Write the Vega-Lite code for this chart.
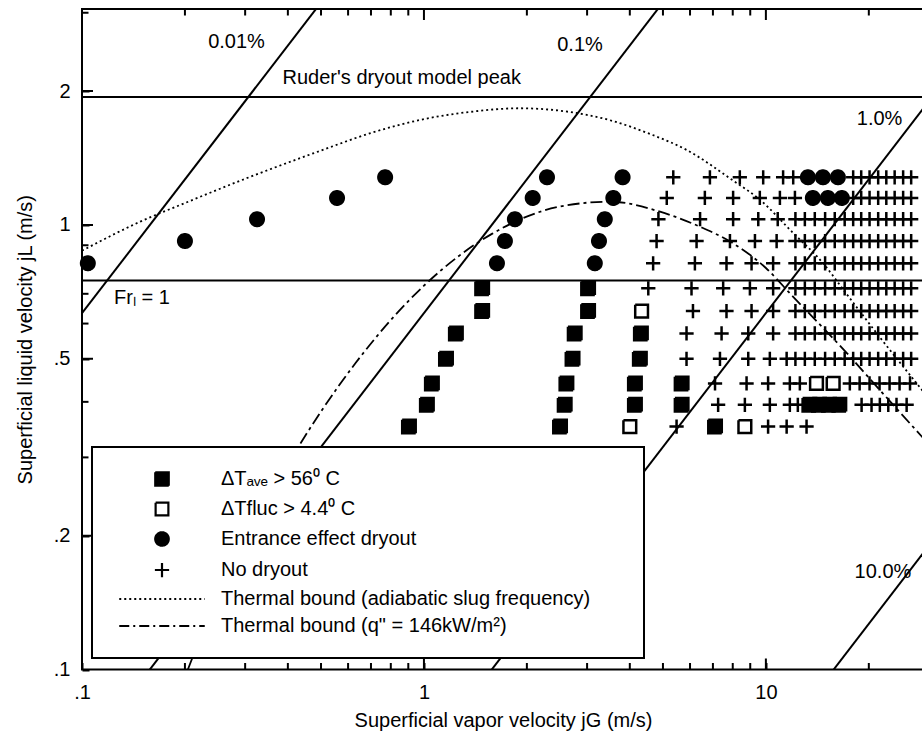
{
  "$schema": "https://vega.github.io/schema/vega-lite/v6.json",
  "width": 842,
  "height": 660.5,
  "autosize": {"type": "none"},
  "padding": {"left": 82, "top": 9, "right": 0, "bottom": 74},
  "background": "white",
  "config": {
    "font": "Liberation Sans",
    "view": {"stroke": "black", "strokeWidth": 2},
    "axis": {"domain": false, "grid": false, "ticks": true, "tickColor": "black", "tickWidth": 2, "labelColor": "black", "labelFontSize": 20, "labelFont": "Liberation Sans", "titleFont": "Liberation Sans", "titleFontSize": 20, "titleFontWeight": "normal", "titleColor": "black", "labelOverlap": false, "labelFlush": false},
    "legend": {"strokeWidth": 2, "symbolStrokeColor": "black", "symbolStrokeWidth": 2.2}
  },
  "layer": [
    {
      "data": {"values": [
        {"g": 0.08, "l": 0.5064, "k": "a"}, {"g": 0.6, "l": 3.798, "k": "a"},
        {"g": 0.15, "l": 0.095, "k": "b"}, {"g": 6.0, "l": 3.8, "k": "b"},
        {"g": 1.5, "l": 0.095, "k": "c"}, {"g": 60, "l": 3.8, "k": "c"},
        {"g": 15, "l": 0.095, "k": "d"}, {"g": 60, "l": 0.38, "k": "d"}
      ]},
      "mark": {"type": "line", "clip": true, "stroke": "black", "strokeWidth": 2},
      "encoding": {
        "x": {"field": "g", "type": "quantitative", "scale": {"type": "log", "domain": [0.1, 29], "nice": false}},
        "y": {"field": "l", "type": "quantitative", "scale": {"type": "log", "domain": [0.1, 3.06], "nice": false}},
        "detail": {"field": "k"}
      }
    },
    {
      "data": {"values": [{"l": 1.94}, {"l": 0.75}]},
      "mark": {"type": "rule", "stroke": "black", "strokeWidth": 2},
      "encoding": {
        "y": {"field": "l", "type": "quantitative", "scale": {"type": "log", "domain": [0.1, 3.06], "nice": false}}
      }
    },
    {
      "data": {"values": [{"v": 0.1}, {"v": 1}, {"v": 10}]},
      "layer": [
        {"mark": {"type": "tick", "orient": "vertical", "size": 22, "thickness": 2, "color": "black", "opacity": 1, "clip": true},
         "encoding": {"x": {"field": "v", "type": "quantitative", "scale": {"type": "log", "domain": [0.1, 29], "nice": false}}, "y": {"datum": 0.1, "type": "quantitative", "scale": {"type": "log", "domain": [0.1, 3.06], "nice": false}}}},
        {"mark": {"type": "tick", "orient": "vertical", "size": 22, "thickness": 2, "color": "black", "opacity": 1, "clip": true},
         "encoding": {"x": {"field": "v", "type": "quantitative", "scale": {"type": "log", "domain": [0.1, 29], "nice": false}}, "y": {"datum": 3.06, "type": "quantitative", "scale": {"type": "log", "domain": [0.1, 3.06], "nice": false}}}}
      ]
    },
    {
      "data": {"values": [{"v": 0.2}, {"v": 0.3}, {"v": 0.4}, {"v": 0.5}, {"v": 0.6}, {"v": 0.7}, {"v": 0.8}, {"v": 0.9}, {"v": 2}, {"v": 3}, {"v": 4}, {"v": 5}, {"v": 6}, {"v": 7}, {"v": 8}, {"v": 9}, {"v": 20}]},
      "layer": [
        {"mark": {"type": "tick", "orient": "vertical", "size": 13, "thickness": 2, "color": "black", "opacity": 1, "clip": true},
         "encoding": {"x": {"field": "v", "type": "quantitative", "scale": {"type": "log", "domain": [0.1, 29], "nice": false}}, "y": {"datum": 0.1, "type": "quantitative", "scale": {"type": "log", "domain": [0.1, 3.06], "nice": false}}}},
        {"mark": {"type": "tick", "orient": "vertical", "size": 13, "thickness": 2, "color": "black", "opacity": 1, "clip": true},
         "encoding": {"x": {"field": "v", "type": "quantitative", "scale": {"type": "log", "domain": [0.1, 29], "nice": false}}, "y": {"datum": 3.06, "type": "quantitative", "scale": {"type": "log", "domain": [0.1, 3.06], "nice": false}}}}
      ]
    },
    {
      "data": {"values": [{"v": 0.2}, {"v": 0.5}, {"v": 1}, {"v": 2}]},
      "mark": {"type": "tick", "orient": "horizontal", "size": 22, "thickness": 2, "color": "black", "opacity": 1, "clip": true},
      "encoding": {"y": {"field": "v", "type": "quantitative", "scale": {"type": "log", "domain": [0.1, 3.06], "nice": false}}, "x": {"datum": 0.1, "type": "quantitative", "scale": {"type": "log", "domain": [0.1, 29], "nice": false}}}
    },
    {
      "data": {"values": [{"v": 0.3}, {"v": 0.4}, {"v": 0.6}, {"v": 0.7}, {"v": 0.8}, {"v": 0.9}, {"v": 3}]},
      "mark": {"type": "tick", "orient": "horizontal", "size": 13, "thickness": 2, "color": "black", "opacity": 1, "clip": true},
      "encoding": {"y": {"field": "v", "type": "quantitative", "scale": {"type": "log", "domain": [0.1, 3.06], "nice": false}}, "x": {"datum": 0.1, "type": "quantitative", "scale": {"type": "log", "domain": [0.1, 29], "nice": false}}}
    },
    {
      "data": {"values": [
        {"g": 0.1, "l": 0.875}, {"g": 0.148, "l": 1.017}, {"g": 0.2, "l": 1.12}, {"g": 0.3, "l": 1.27},
        {"g": 0.5, "l": 1.47}, {"g": 0.7, "l": 1.61}, {"g": 1.0, "l": 1.73}, {"g": 1.4, "l": 1.80},
        {"g": 1.9, "l": 1.83}, {"g": 2.6, "l": 1.80}, {"g": 3.5, "l": 1.72}, {"g": 4.6, "l": 1.60},
        {"g": 5.86, "l": 1.475}, {"g": 8.0, "l": 1.26}, {"g": 9.6, "l": 1.14}, {"g": 12.0, "l": 0.96},
        {"g": 14.7, "l": 0.82}, {"g": 17.2, "l": 0.70}, {"g": 21.5, "l": 0.56}, {"g": 29, "l": 0.42}
      ]},
      "mark": {"type": "line", "clip": true, "stroke": "black", "strokeWidth": 1.8, "strokeDash": [2, 3], "interpolate": "monotone"},
      "encoding": {
        "x": {"field": "g", "type": "quantitative", "scale": {"type": "log", "domain": [0.1, 29], "nice": false}},
        "y": {"field": "l", "type": "quantitative", "scale": {"type": "log", "domain": [0.1, 3.06], "nice": false}}
      }
    },
    {
      "data": {"values": [
        {"g": 0.204, "l": 0.1}, {"g": 0.251, "l": 0.149}, {"g": 0.398, "l": 0.288}, {"g": 0.631, "l": 0.489},
        {"g": 1.0, "l": 0.73}, {"g": 1.585, "l": 0.956}, {"g": 2.5, "l": 1.10}, {"g": 3.5, "l": 1.128},
        {"g": 4.9, "l": 1.071}, {"g": 6.41, "l": 0.991}, {"g": 8.0, "l": 0.91}, {"g": 10.0, "l": 0.80},
        {"g": 12.0, "l": 0.69}, {"g": 14.0, "l": 0.61}, {"g": 17.25, "l": 0.515}, {"g": 21.5, "l": 0.426},
        {"g": 29, "l": 0.33}
      ]},
      "mark": {"type": "line", "clip": true, "stroke": "black", "strokeWidth": 1.8, "strokeDash": [12, 4, 3, 4], "interpolate": "monotone"},
      "encoding": {
        "x": {"field": "g", "type": "quantitative", "scale": {"type": "log", "domain": [0.1, 29], "nice": false}},
        "y": {"field": "l", "type": "quantitative", "scale": {"type": "log", "domain": [0.1, 3.06], "nice": false}}
      }
    },
    {
      "data": {"values": [
        {"g": 5.36, "l": 1.28, "t": "plus"}, {"g": 6.86, "l": 1.28, "t": "plus"}, {"g": 8.39, "l": 1.28, "t": "plus"}, {"g": 9.82, "l": 1.28, "t": "plus"}, {"g": 11.23, "l": 1.28, "t": "plus"}, {"g": 12.02, "l": 1.28, "t": "plus"},
        {"g": 18.0, "l": 1.28, "t": "plus"}, {"g": 19.0, "l": 1.28, "t": "plus"}, {"g": 20.1, "l": 1.28, "t": "plus"}, {"g": 21.3, "l": 1.28, "t": "plus"}, {"g": 22.5, "l": 1.28, "t": "plus"}, {"g": 23.8, "l": 1.28, "t": "plus"}, {"g": 25.2, "l": 1.28, "t": "plus"}, {"g": 26.6, "l": 1.28, "t": "plus"},
        {"g": 5.13, "l": 1.15, "t": "plus"}, {"g": 6.63, "l": 1.15, "t": "plus"}, {"g": 8.02, "l": 1.15, "t": "plus"}, {"g": 9.6, "l": 1.15, "t": "plus"}, {"g": 10.99, "l": 1.15, "t": "plus"}, {"g": 12.16, "l": 1.15, "t": "plus"},
        {"g": 18.0, "l": 1.15, "t": "plus"}, {"g": 19.0, "l": 1.15, "t": "plus"}, {"g": 20.1, "l": 1.15, "t": "plus"}, {"g": 21.3, "l": 1.15, "t": "plus"}, {"g": 22.5, "l": 1.15, "t": "plus"}, {"g": 23.8, "l": 1.15, "t": "plus"}, {"g": 25.2, "l": 1.15, "t": "plus"}, {"g": 26.6, "l": 1.15, "t": "plus"},
        {"g": 4.85, "l": 1.03, "t": "plus"}, {"g": 6.42, "l": 1.03, "t": "plus"}, {"g": 8.02, "l": 1.03, "t": "plus"}, {"g": 9.5, "l": 1.03, "t": "plus"}, {"g": 10.83, "l": 1.03, "t": "plus"},
        {"g": 12.2, "l": 1.03, "t": "plus"}, {"g": 13.0, "l": 1.03, "t": "plus"}, {"g": 13.9, "l": 1.03, "t": "plus"}, {"g": 14.9, "l": 1.03, "t": "plus"}, {"g": 15.9, "l": 1.03, "t": "plus"}, {"g": 17.0, "l": 1.03, "t": "plus"},
        {"g": 18.0, "l": 1.03, "t": "plus"}, {"g": 19.0, "l": 1.03, "t": "plus"}, {"g": 20.1, "l": 1.03, "t": "plus"}, {"g": 21.3, "l": 1.03, "t": "plus"}, {"g": 22.5, "l": 1.03, "t": "plus"}, {"g": 23.8, "l": 1.03, "t": "plus"}, {"g": 25.2, "l": 1.03, "t": "plus"}, {"g": 26.6, "l": 1.03, "t": "plus"},
        {"g": 4.79, "l": 0.92, "t": "plus"}, {"g": 6.27, "l": 0.92, "t": "plus"}, {"g": 7.85, "l": 0.92, "t": "plus"}, {"g": 9.29, "l": 0.92, "t": "plus"}, {"g": 10.75, "l": 0.92, "t": "plus"},
        {"g": 12.2, "l": 0.92, "t": "plus"}, {"g": 13.0, "l": 0.92, "t": "plus"}, {"g": 13.9, "l": 0.92, "t": "plus"}, {"g": 14.9, "l": 0.92, "t": "plus"}, {"g": 15.9, "l": 0.92, "t": "plus"}, {"g": 17.0, "l": 0.92, "t": "plus"},
        {"g": 18.0, "l": 0.92, "t": "plus"}, {"g": 19.0, "l": 0.92, "t": "plus"}, {"g": 20.1, "l": 0.92, "t": "plus"}, {"g": 21.3, "l": 0.92, "t": "plus"}, {"g": 22.5, "l": 0.92, "t": "plus"}, {"g": 23.8, "l": 0.92, "t": "plus"}, {"g": 25.2, "l": 0.92, "t": "plus"}, {"g": 26.6, "l": 0.92, "t": "plus"},
        {"g": 4.68, "l": 0.82, "t": "plus"}, {"g": 6.2, "l": 0.82, "t": "plus"}, {"g": 7.67, "l": 0.82, "t": "plus"}, {"g": 9.08, "l": 0.82, "t": "plus"}, {"g": 10.5, "l": 0.82, "t": "plus"},
        {"g": 12.2, "l": 0.82, "t": "plus"}, {"g": 13.0, "l": 0.82, "t": "plus"}, {"g": 13.9, "l": 0.82, "t": "plus"}, {"g": 14.9, "l": 0.82, "t": "plus"}, {"g": 15.9, "l": 0.82, "t": "plus"}, {"g": 17.0, "l": 0.82, "t": "plus"},
        {"g": 18.0, "l": 0.82, "t": "plus"}, {"g": 19.0, "l": 0.82, "t": "plus"}, {"g": 20.1, "l": 0.82, "t": "plus"}, {"g": 21.3, "l": 0.82, "t": "plus"}, {"g": 22.5, "l": 0.82, "t": "plus"}, {"g": 23.8, "l": 0.82, "t": "plus"}, {"g": 25.2, "l": 0.82, "t": "plus"}, {"g": 26.6, "l": 0.82, "t": "plus"},
        {"g": 4.53, "l": 0.72, "t": "plus"}, {"g": 6.06, "l": 0.72, "t": "plus"}, {"g": 7.5, "l": 0.72, "t": "plus"}, {"g": 8.98, "l": 0.72, "t": "plus"}, {"g": 10.5, "l": 0.72, "t": "plus"},
        {"g": 12.2, "l": 0.72, "t": "plus"}, {"g": 13.0, "l": 0.72, "t": "plus"}, {"g": 13.9, "l": 0.72, "t": "plus"}, {"g": 14.9, "l": 0.72, "t": "plus"}, {"g": 15.9, "l": 0.72, "t": "plus"}, {"g": 17.0, "l": 0.72, "t": "plus"},
        {"g": 18.0, "l": 0.72, "t": "plus"}, {"g": 19.0, "l": 0.72, "t": "plus"}, {"g": 20.1, "l": 0.72, "t": "plus"}, {"g": 21.3, "l": 0.72, "t": "plus"}, {"g": 22.5, "l": 0.72, "t": "plus"}, {"g": 23.8, "l": 0.72, "t": "plus"}, {"g": 25.2, "l": 0.72, "t": "plus"}, {"g": 26.6, "l": 0.72, "t": "plus"},
        {"g": 6.12, "l": 0.64, "t": "plus"}, {"g": 7.67, "l": 0.64, "t": "plus"}, {"g": 9.08, "l": 0.64, "t": "plus"}, {"g": 10.5, "l": 0.64, "t": "plus"},
        {"g": 12.2, "l": 0.64, "t": "plus"}, {"g": 13.0, "l": 0.64, "t": "plus"}, {"g": 13.9, "l": 0.64, "t": "plus"}, {"g": 14.9, "l": 0.64, "t": "plus"}, {"g": 15.9, "l": 0.64, "t": "plus"}, {"g": 17.0, "l": 0.64, "t": "plus"},
        {"g": 18.0, "l": 0.64, "t": "plus"}, {"g": 19.0, "l": 0.64, "t": "plus"}, {"g": 20.1, "l": 0.64, "t": "plus"}, {"g": 21.3, "l": 0.64, "t": "plus"}, {"g": 22.5, "l": 0.64, "t": "plus"}, {"g": 23.8, "l": 0.64, "t": "plus"}, {"g": 25.2, "l": 0.64, "t": "plus"}, {"g": 26.6, "l": 0.64, "t": "plus"},
        {"g": 5.86, "l": 0.57, "t": "plus"}, {"g": 7.42, "l": 0.57, "t": "plus"}, {"g": 8.88, "l": 0.57, "t": "plus"}, {"g": 10.5, "l": 0.57, "t": "plus"},
        {"g": 12.2, "l": 0.57, "t": "plus"}, {"g": 13.0, "l": 0.57, "t": "plus"}, {"g": 13.9, "l": 0.57, "t": "plus"}, {"g": 14.9, "l": 0.57, "t": "plus"}, {"g": 15.9, "l": 0.57, "t": "plus"}, {"g": 17.0, "l": 0.57, "t": "plus"},
        {"g": 18.0, "l": 0.57, "t": "plus"}, {"g": 19.0, "l": 0.57, "t": "plus"}, {"g": 20.1, "l": 0.57, "t": "plus"}, {"g": 21.3, "l": 0.57, "t": "plus"}, {"g": 22.5, "l": 0.57, "t": "plus"}, {"g": 23.8, "l": 0.57, "t": "plus"}, {"g": 25.2, "l": 0.57, "t": "plus"}, {"g": 26.6, "l": 0.57, "t": "plus"},
        {"g": 5.86, "l": 0.5, "t": "plus"}, {"g": 7.34, "l": 0.5, "t": "plus"}, {"g": 8.88, "l": 0.5, "t": "plus"}, {"g": 10.27, "l": 0.5, "t": "plus"}, {"g": 11.5, "l": 0.5, "t": "plus"},
        {"g": 12.2, "l": 0.5, "t": "plus"}, {"g": 13.0, "l": 0.5, "t": "plus"}, {"g": 13.9, "l": 0.5, "t": "plus"}, {"g": 14.9, "l": 0.5, "t": "plus"}, {"g": 15.9, "l": 0.5, "t": "plus"}, {"g": 17.0, "l": 0.5, "t": "plus"},
        {"g": 18.0, "l": 0.5, "t": "plus"}, {"g": 19.0, "l": 0.5, "t": "plus"}, {"g": 20.1, "l": 0.5, "t": "plus"}, {"g": 21.3, "l": 0.5, "t": "plus"}, {"g": 22.5, "l": 0.5, "t": "plus"}, {"g": 23.8, "l": 0.5, "t": "plus"}, {"g": 25.2, "l": 0.5, "t": "plus"}, {"g": 26.6, "l": 0.5, "t": "plus"},
        {"g": 7.1, "l": 0.44, "t": "plus"}, {"g": 8.78, "l": 0.44, "t": "plus"}, {"g": 10.15, "l": 0.44, "t": "plus"}, {"g": 11.75, "l": 0.44, "t": "plus"}, {"g": 12.57, "l": 0.44, "t": "plus"},
        {"g": 17.6, "l": 0.44, "t": "plus"}, {"g": 18.8, "l": 0.44, "t": "plus"}, {"g": 20.1, "l": 0.44, "t": "plus"}, {"g": 21.5, "l": 0.44, "t": "plus"}, {"g": 23.0, "l": 0.44, "t": "plus"}, {"g": 24.6, "l": 0.44, "t": "plus"}, {"g": 26.4, "l": 0.44, "t": "plus"},
        {"g": 7.25, "l": 0.394, "t": "plus"}, {"g": 8.68, "l": 0.394, "t": "plus"}, {"g": 10.27, "l": 0.394, "t": "plus"}, {"g": 11.75, "l": 0.394, "t": "plus"}, {"g": 12.4, "l": 0.394, "t": "plus"},
        {"g": 19.05, "l": 0.394, "t": "plus"}, {"g": 20.37, "l": 0.394, "t": "plus"}, {"g": 21.54, "l": 0.394, "t": "plus"}, {"g": 22.8, "l": 0.394, "t": "plus"}, {"g": 24.1, "l": 0.394, "t": "plus"}, {"g": 25.8, "l": 0.394, "t": "plus"},
        {"g": 5.48, "l": 0.352, "t": "plus"}, {"g": 10.15, "l": 0.352, "t": "plus"}, {"g": 11.5, "l": 0.352, "t": "plus"}, {"g": 13.15, "l": 0.352, "t": "plus"},
        {"g": 1.48, "l": 0.72, "t": "sq"}, {"g": 1.48, "l": 0.64, "t": "sq"}, {"g": 1.24, "l": 0.57, "t": "sq"}, {"g": 1.16, "l": 0.5, "t": "sq"}, {"g": 1.055, "l": 0.44, "t": "sq"}, {"g": 1.02, "l": 0.394, "t": "sq"}, {"g": 0.904, "l": 0.352, "t": "sq"},
        {"g": 3.02, "l": 0.72, "t": "sq"}, {"g": 3.02, "l": 0.64, "t": "sq"}, {"g": 2.76, "l": 0.57, "t": "sq"}, {"g": 2.72, "l": 0.5, "t": "sq"}, {"g": 2.61, "l": 0.44, "t": "sq"}, {"g": 2.58, "l": 0.394, "t": "sq"}, {"g": 2.5, "l": 0.352, "t": "sq"},
        {"g": 4.31, "l": 0.57, "t": "sq"}, {"g": 4.28, "l": 0.5, "t": "sq"}, {"g": 4.14, "l": 0.44, "t": "sq"}, {"g": 4.14, "l": 0.394, "t": "sq"}, {"g": 5.67, "l": 0.44, "t": "sq"}, {"g": 5.67, "l": 0.394, "t": "sq"}, {"g": 7.1, "l": 0.352, "t": "sq"},
        {"g": 13.4, "l": 0.394, "t": "sq"}, {"g": 14.3, "l": 0.394, "t": "sq"}, {"g": 15.3, "l": 0.394, "t": "sq"}, {"g": 16.4, "l": 0.394, "t": "sq"},
        {"g": 4.33, "l": 0.64, "t": "osq"}, {"g": 4.0, "l": 0.352, "t": "osq"}, {"g": 8.68, "l": 0.352, "t": "osq"}, {"g": 14.06, "l": 0.44, "t": "osq"}, {"g": 15.73, "l": 0.44, "t": "osq"},
        {"g": 0.104, "l": 0.82, "t": "circ"}, {"g": 0.2, "l": 0.92, "t": "circ"}, {"g": 0.325, "l": 1.03, "t": "circ"}, {"g": 0.557, "l": 1.15, "t": "circ"}, {"g": 0.77, "l": 1.28, "t": "circ"},
        {"g": 1.635, "l": 0.82, "t": "circ"}, {"g": 1.725, "l": 0.92, "t": "circ"}, {"g": 1.845, "l": 1.03, "t": "circ"}, {"g": 2.08, "l": 1.15, "t": "circ"}, {"g": 2.29, "l": 1.28, "t": "circ"},
        {"g": 3.16, "l": 0.82, "t": "circ"}, {"g": 3.25, "l": 0.92, "t": "circ"}, {"g": 3.38, "l": 1.03, "t": "circ"}, {"g": 3.58, "l": 1.15, "t": "circ"}, {"g": 3.81, "l": 1.28, "t": "circ"},
        {"g": 13.27, "l": 1.28, "t": "circ"}, {"g": 14.68, "l": 1.28, "t": "circ"}, {"g": 16.24, "l": 1.28, "t": "circ"},
        {"g": 13.72, "l": 1.15, "t": "circ"}, {"g": 15.18, "l": 1.15, "t": "circ"}, {"g": 16.68, "l": 1.15, "t": "circ"}
      ]},
      "mark": {"type": "point", "filled": false, "size": 225, "strokeWidth": 2.5, "opacity": 1},
      "encoding": {
        "x": {"field": "g", "type": "quantitative", "scale": {"type": "log", "domain": [0.1, 29], "nice": false},
              "axis": {"orient": "bottom", "values": [0.1, 1, 10], "labelExpr": "datum.value==0.1?'.1':datum.value==1?'1':datum.value==10?'10':''", "tickSize": 7, "offset": -7, "labelPadding": 13, "title": "Superficial vapor velocity jG (m/s)", "titlePadding": 8}},
        "y": {"field": "l", "type": "quantitative", "scale": {"type": "log", "domain": [0.1, 3.06], "nice": false},
              "axis": {"orient": "left", "values": [0.1, 0.2, 0.5, 1, 2], "labelExpr": "datum.value==0.1?'.1':datum.value==0.2?'.2':datum.value==0.5?'.5':datum.value==1?'1':datum.value==2?'2':''", "tickSize": 7, "offset": -7, "labelPadding": 12, "title": "Superficial liquid velocity jL (m/s)", "titlePadding": 18}},
        "shape": {"field": "t", "type": "nominal",
                  "scale": {"domain": ["sq", "osq", "circ", "plus", "dot", "dashdot"],
                            "range": ["M-0.9,-0.9H0.9V0.9H-0.9Z", "M-0.85,-0.85H0.85V0.85H-0.85Z", "M-0.9,0A0.9,0.9,0,1,1,0.9,0A0.9,0.9,0,1,1,-0.9,0Z", "M-0.95,0H0.95M0,-0.95V0.95", "M-5.7,0H5.7", "M-5.7,0H5.7"]},
                  "legend": {"orient": "none", "legendX": 10, "legendY": 438, "title": null, "fillColor": "white", "strokeColor": "black", "padding": 22, "rowPadding": 7, "symbolSize": 225, "symbolOffset": 38, "labelOffset": 49, "labelFontSize": 20, "labelFont": "Liberation Sans", "labelColor": "black", "labelLimit": 0,
                             "labelExpr": "datum.value=='sq'?'ΔTₐᵥₑ > 56⁰ C':datum.value=='osq'?'ΔTfluc > 4.4⁰ C':datum.value=='circ'?'Entrance effect dryout':datum.value=='plus'?'No dryout':datum.value=='dot'?'Thermal bound (adiabatic slug frequency)\u00a0\u00a0\u00a0\u2800':'Thermal bound (q\" = 146kW/m²)'"}},
        "fill": {"field": "t", "type": "nominal",
                 "scale": {"domain": ["sq", "osq", "circ", "plus", "dot", "dashdot"], "range": ["black", "white", "black", "transparent", "transparent", "transparent"]}},
        "stroke": {"field": "t", "type": "nominal",
                   "scale": {"domain": ["sq", "osq", "circ", "plus", "dot", "dashdot"], "range": ["black", "black", "black", "black", "black", "black"]}},
        "strokeDash": {"field": "t", "type": "nominal",
                       "scale": {"domain": ["sq", "osq", "circ", "plus", "dot", "dashdot"], "range": [[1, 0], [1, 0], [1, 0], [1, 0], [2, 3], [10, 4, 2, 4]]}}
      }
    },
    {
      "data": {"values": [
        {"g": 0.283, "l": 2.585, "txt": "0.01%"},
        {"g": 0.861, "l": 2.138, "txt": "Ruder's dryout model peak"},
        {"g": 2.86, "l": 2.54, "txt": "0.1%"},
        {"g": 21.5, "l": 1.73, "txt": "1.0%"},
        {"g": 22.0, "l": 0.1657, "txt": "10.0%"},
        {"g": 0.1497, "l": 0.685, "txt": "Frₗ = 1"}
      ]},
      "mark": {"type": "text", "font": "Liberation Sans", "fontSize": 20, "color": "black", "align": "center", "baseline": "middle"},
      "encoding": {
        "x": {"field": "g", "type": "quantitative", "scale": {"type": "log", "domain": [0.1, 29], "nice": false}},
        "y": {"field": "l", "type": "quantitative", "scale": {"type": "log", "domain": [0.1, 3.06], "nice": false}},
        "text": {"field": "txt"}
      }
    }
  ]
}
